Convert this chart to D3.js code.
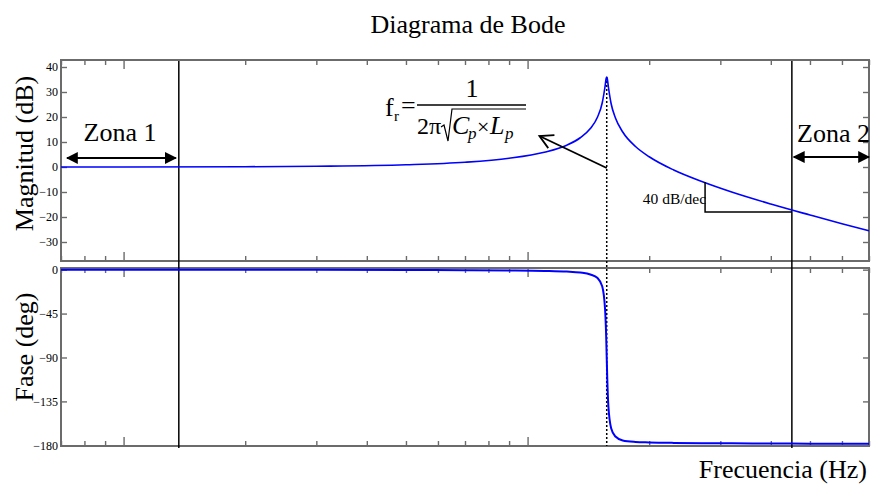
<!DOCTYPE html>
<html>
<head>
<meta charset="utf-8">
<script src="https://cdn.jsdelivr.net/npm/d3@7"></script>
<style>
  body { margin: 0; background: #fff; }
  svg { display: block; }
  text { font-family: "Liberation Serif", "Times New Roman", serif; fill: #000; }
</style>
</head>
<body>
<svg id="chart" width="873" height="487"></svg>
<script>
// Frequency response of the resonant circuit (log frequency axis)
const freqHz = [700, 1000, 2000, 3000, 5000, 7000, 9000, 11000, 12500, 13500, 14300, 14900,
  15300, 15550, 15650, 15700, 15750, 15850, 16100, 16500, 17200, 18500, 20000, 23000,
  27000, 32000, 40000, 50000, 60000, 70000];
const magnitudeDb = [0, 0, 0.1, 0.3, 0.9, 1.9, 3.5, 5.9, 8.7, 11.7, 15.4, 20,
  25.6, 32.2, 35.4, 36, 35.3, 32, 25.3, 19.6, 14, 8.2, 4.1, -1.2,
  -5.8, -10, -14.8, -19.2, -22.7, -25.5];
const phaseDeg = [0, 0, -0.1, -0.2, -0.3, -0.5, -0.8, -1.3, -2, -3, -4.9, -8.6,
  -17, -40, -68, -90, -112, -140, -162.5, -171, -175, -176.5, -177, -177.5,
  -177.8, -178, -178.2, -178.3, -178.4, -178.5];

const freqDomain = [700, 70000];
const magDomain = [-37.6, 42.8];
const phaseDomain = [-180.7, 1.7];
const magTicks = [40, 30, 20, 10, 0, -10, -20, -30];
const phaseTicks = [0, -45, -90, -135, -180];

const resonanceHz = 15700;
const peakDb = 36;
const zone1EdgeHz = 1370;
const zone2EdgeHz = 45100;
// slope marker: vertical leg at slopeFromHz, horizontal leg to slopeToHz
const slopeFromHz = 27500, slopeToHz = 45100, slopeTopDb = -6, slopeBaseDb = -18;
// pointer from the formula towards the resonance
const pointerFromHz = 15700, pointerFromDb = -0.4, pointerToHz = 10700, pointerToDb = 12.4;

const svg = d3.select("#chart");
svg.append("rect").attr("width", 873).attr("height", 487).attr("fill", "#fff");

const L = 61, R = 869;
const magTop = 60, magBottom = 261;
const phTop = 268, phBottom = 446;
const frameColor = "#6b6b6b";

const x = d3.scaleLog().domain(freqDomain).range([L, R]);
const yMag = d3.scaleLinear().domain(magDomain).range([magBottom, magTop]);
const yPh = d3.scaleLinear().domain(phaseDomain).range([phBottom, phTop]);

const xTicks = x.ticks();
const isMajor = v => Math.abs(Math.log10(v) - Math.round(Math.log10(v))) < 1e-9;

function styleAxis(g) {
  g.select(".domain").remove();
  g.selectAll(".tick line").attr("stroke", frameColor).attr("stroke-width", 1.4);
  g.selectAll(".tick text").attr("font-size", 12)
    .attr("font-family", "'Liberation Serif','Times New Roman',serif").attr("fill", "#000");
}

function panel(y, top, bottom, ticks) {
  // x ticks on top and bottom edges, pointing inward
  const gTop = svg.append("g").attr("transform", `translate(0,${top})`)
    .call(d3.axisBottom(x).tickValues(xTicks).tickSize(5).tickFormat(""));
  styleAxis(gTop);
  gTop.selectAll(".tick line").filter(d => isMajor(d)).attr("y2", 9);
  const gBot = svg.append("g").attr("transform", `translate(0,${bottom})`)
    .call(d3.axisTop(x).tickValues(xTicks).tickSize(5).tickFormat(""));
  styleAxis(gBot);
  gBot.selectAll(".tick line").filter(d => isMajor(d)).attr("y2", -9);
  // y ticks on both sides
  const gL = svg.append("g").attr("transform", `translate(${L},0)`)
    .call(d3.axisLeft(y).tickValues(ticks).tickSize(-6).tickPadding(3).tickFormat(d3.format("d")));
  styleAxis(gL);
  const gR = svg.append("g").attr("transform", `translate(${R},0)`)
    .call(d3.axisRight(y).tickValues(ticks).tickSize(-6).tickFormat(""));
  styleAxis(gR);
  svg.append("rect").attr("x", L).attr("y", top).attr("width", R - L).attr("height", bottom - top)
    .attr("fill", "none").attr("stroke", frameColor).attr("stroke-width", 2);
}

panel(yMag, magTop, magBottom, magTicks);
panel(yPh, phTop, phBottom, phaseTicks);

const pts = freqHz.map((f, i) => ({ f, m: magnitudeDb[i], p: phaseDeg[i] }));

// zone boundaries across both panels
[zone1EdgeHz, zone2EdgeHz].forEach(f => {
  svg.append("line").attr("x1", x(f)).attr("x2", x(f)).attr("y1", magTop + 1).attr("y2", phBottom + 2)
    .attr("stroke", "#000").attr("stroke-width", 1.5);
});

// resonance marker (dotted)
svg.append("line").attr("x1", x(resonanceHz)).attr("x2", x(resonanceHz))
  .attr("y1", yMag(peakDb)).attr("y2", phBottom)
  .attr("stroke", "#000").attr("stroke-width", 1.5).attr("stroke-dasharray", "2,2");

// curves
svg.append("clipPath").attr("id", "clipM").append("rect")
  .attr("x", L).attr("y", magTop).attr("width", R - L).attr("height", magBottom - magTop);
svg.append("clipPath").attr("id", "clipP").append("rect")
  .attr("x", L).attr("y", phTop).attr("width", R - L).attr("height", phBottom - phTop);

svg.append("path").datum(pts).attr("clip-path", "url(#clipM)")
  .attr("d", d3.line().x(d => x(d.f)).y(d => yMag(d.m)).curve(d3.curveMonotoneX))
  .attr("fill", "none").attr("stroke", "#0000ff").attr("stroke-width", 1.6);
svg.append("path").datum(pts).attr("clip-path", "url(#clipP)")
  .attr("d", d3.line().x(d => x(d.f)).y(d => yPh(d.p)).curve(d3.curveMonotoneX))
  .attr("fill", "none").attr("stroke", "#0000ff").attr("stroke-width", 2);

// slope marker
svg.append("path")
  .attr("d", `M${x(slopeFromHz)},${yMag(slopeTopDb)} L${x(slopeFromHz)},${yMag(slopeBaseDb)} L${x(slopeToHz)},${yMag(slopeBaseDb)}`)
  .attr("fill", "none").attr("stroke", "#000").attr("stroke-width", 1.5);
svg.append("text").attr("x", x(slopeFromHz) + 1).attr("y", 204).attr("text-anchor", "end")
  .attr("font-size", 15.5).text("40 dB/dec");

// double arrows for the zones
svg.append("defs").html(`
  <marker id="tri" viewBox="0 0 10 10" refX="9" refY="5" markerWidth="12" markerHeight="12" markerUnits="userSpaceOnUse" orient="auto-start-reverse">
    <path d="M0,0 L10,5 L0,10 z" fill="#000"/>
  </marker>`);
function dblArrow(x1, x2, yy) {
  svg.append("line").attr("x1", x1).attr("x2", x2).attr("y1", yy).attr("y2", yy)
    .attr("stroke", "#000").attr("stroke-width", 2)
    .attr("marker-start", "url(#tri)").attr("marker-end", "url(#tri)");
}
dblArrow(L + 6, x(zone1EdgeHz) - 3, 158);
dblArrow(x(zone2EdgeHz) + 2, R, 157);
svg.append("text").attr("x", 120).attr("y", 141).attr("text-anchor", "middle").attr("font-size", 26).text("Zona 1");
svg.append("text").attr("x", 797).attr("y", 142).attr("font-size", 26).text("Zona 2");

// pointer arrow (open head)
const px1 = x(pointerFromHz), py1 = yMag(pointerFromDb), px2 = x(pointerToHz), py2 = yMag(pointerToDb);
svg.append("line").attr("x1", px1).attr("y1", py1).attr("x2", px2).attr("y2", py2)
  .attr("stroke", "#000").attr("stroke-width", 1.8);
const ang = Math.atan2(py1 - py2, px1 - px2);
const hl = 15, ha = 0.5;
svg.append("path")
  .attr("d", `M${px2 + hl * Math.cos(ang - ha)},${py2 + hl * Math.sin(ang - ha)} L${px2},${py2} L${px2 + hl * Math.cos(ang + ha)},${py2 + hl * Math.sin(ang + ha)}`)
  .attr("fill", "none").attr("stroke", "#000").attr("stroke-width", 1.8);

// resonance formula
const fm = svg.append("g");
fm.append("text").attr("x", 385).attr("y", 116).attr("font-size", 26).text("f");
fm.append("text").attr("x", 394).attr("y", 121).attr("font-size", 15).text("r");
fm.append("text").attr("x", 401).attr("y", 114).attr("font-size", 26).text("=");
fm.append("line").attr("x1", 417).attr("x2", 526).attr("y1", 105).attr("y2", 105).attr("stroke", "#000").attr("stroke-width", 1.3);
fm.append("text").attr("x", 472).attr("y", 97).attr("text-anchor", "middle").attr("font-size", 26).text("1");
fm.append("text").attr("x", 417).attr("y", 134).attr("font-size", 24).text("2π");
fm.append("path").attr("d", "M441,127 L444,125 L448,141 L452,109 L526,109")
  .attr("fill", "none").attr("stroke", "#000").attr("stroke-width", 1.2);
fm.append("text").attr("x", 452).attr("y", 134).attr("font-size", 26).attr("font-style", "italic").text("C");
fm.append("text").attr("x", 468).attr("y", 139).attr("font-size", 17).attr("font-style", "italic").text("p");
fm.append("text").attr("x", 477).attr("y", 134).attr("font-size", 22).text("×");
fm.append("text").attr("x", 490).attr("y", 134).attr("font-size", 26).attr("font-style", "italic").text("L");
fm.append("text").attr("x", 505).attr("y", 139).attr("font-size", 17).attr("font-style", "italic").text("p");

// titles and axis labels
svg.append("text").attr("x", 468).attr("y", 33).attr("text-anchor", "middle").attr("font-size", 26).text("Diagrama de Bode");
svg.append("text").attr("x", 867).attr("y", 478).attr("text-anchor", "end").attr("font-size", 26).text("Frecuencia (Hz)");
svg.append("text").attr("transform", `translate(33,${(magTop + magBottom) / 2 - 7}) rotate(-90)`)
  .attr("text-anchor", "middle").attr("font-size", 26).text("Magnitud (dB)");
svg.append("text").attr("transform", `translate(33,347) rotate(-90)`)
  .attr("text-anchor", "middle").attr("font-size", 26).text("Fase (deg)");
</script>
</body>
</html>
